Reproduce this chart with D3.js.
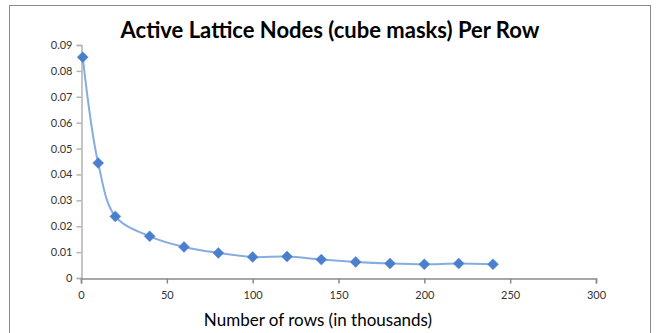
<!DOCTYPE html>
<html>
<head>
<meta charset="utf-8">
<script src="https://cdn.jsdelivr.net/npm/d3@7"></script>
<style>
  html, body { margin: 0; padding: 0; background: #fff; }
  svg { display: block; }
  text { font-family: Lato, "Open Sans", "Liberation Sans", sans-serif; }
</style>
</head>
<body>
<svg id="chart" width="656" height="333"></svg>
<script>
// Rows processed (thousands) and active lattice nodes per row
const rowsK = [1, 10, 20, 40, 60, 80, 100, 120, 140, 160, 180, 200, 220, 240];
const nodesPerRow = [0.0853, 0.0444, 0.0238, 0.0161, 0.0120, 0.0097, 0.0081, 0.0083, 0.0071, 0.0062, 0.0056, 0.0053, 0.0056, 0.0053];
const xTicks = [0, 50, 100, 150, 200, 250, 300];
const yTicks = [0, 0.01, 0.02, 0.03, 0.04, 0.05, 0.06, 0.07, 0.08, 0.09];

const titleText = "Active Lattice Nodes (cube masks) Per Row";
const xTitleText = "Number of rows (in thousands)";

const svg = d3.select("#chart");

// chart area frame
svg.append("rect")
  .attr("x", 9.5).attr("y", 5.5)
  .attr("width", 641).attr("height", 340)
  .attr("fill", "#fff")
  .attr("stroke", "#8a8a8a")
  .attr("stroke-width", 1);

const plot = { left: 81, right: 596, top: 45, bottom: 278 };

const x = d3.scaleLinear().domain([0, 300]).range([plot.left, plot.right]);
const y = d3.scaleLinear().domain([0, 0.09]).range([plot.bottom, plot.top]);

// y axis
const yAxis = svg.append("g")
  .attr("transform", `translate(${plot.left + 0.5},0)`)
  .call(d3.axisLeft(y).tickValues(yTicks).tickSize(5).tickPadding(4)
    .tickFormat(d => d === 0 ? "0" : d3.format(".2f")(d)));
yAxis.select(".domain").attr("stroke", "#b3b3b3").attr("stroke-width", 1.5);
yAxis.selectAll(".tick line").attr("stroke", "#b3b3b3").attr("stroke-width", 1.5);
yAxis.selectAll(".tick text").attr("fill", "#333").attr("font-size", 11);

// x axis
const xAxis = svg.append("g")
  .attr("transform", `translate(0,${plot.bottom + 0.5})`)
  .call(d3.axisBottom(x).tickValues(xTicks).tickSize(5).tickPadding(8)
    .tickFormat(d3.format("d")));
xAxis.select(".domain").attr("stroke", "#8a8a8a").attr("stroke-width", 1.5);
xAxis.selectAll(".tick line").attr("stroke", "#8a8a8a").attr("stroke-width", 1.5);
xAxis.selectAll(".tick text").attr("fill", "#333").attr("font-size", 11);

const pts = rowsK.map((r, i) => [r, nodesPerRow[i]]);

// smoothed series line
svg.append("path")
  .datum(pts)
  .attr("fill", "none")
  .attr("stroke", "#86ace0")
  .attr("stroke-width", 2)
  .attr("d", d3.line()
    .x(d => x(d[0]))
    .y(d => y(d[1]))
    .curve(d3.curveCatmullRom.alpha(0.5)));

// diamond markers
svg.append("g").selectAll("path")
  .data(pts)
  .join("path")
  .attr("transform", d => `translate(${x(d[0])},${y(d[1])})`)
  .attr("d", "M0,-5.5L5.5,0L0,5.5L-5.5,0Z")
  .attr("fill", "#4a7fcd")
  .attr("stroke", "#5b8bd3")
  .attr("stroke-width", 0.5);

// chart title
svg.append("text")
  .attr("x", 330).attr("y", 38)
  .attr("text-anchor", "middle")
  .attr("font-size", 22)
  .attr("font-weight", "bold")
  .attr("fill", "#000")
  .text(titleText);

// x axis title
svg.append("text")
  .attr("x", 318).attr("y", 326)
  .attr("text-anchor", "middle")
  .attr("font-size", 17)
  .attr("fill", "#000")
  .text(xTitleText);
</script>
</body>
</html>
